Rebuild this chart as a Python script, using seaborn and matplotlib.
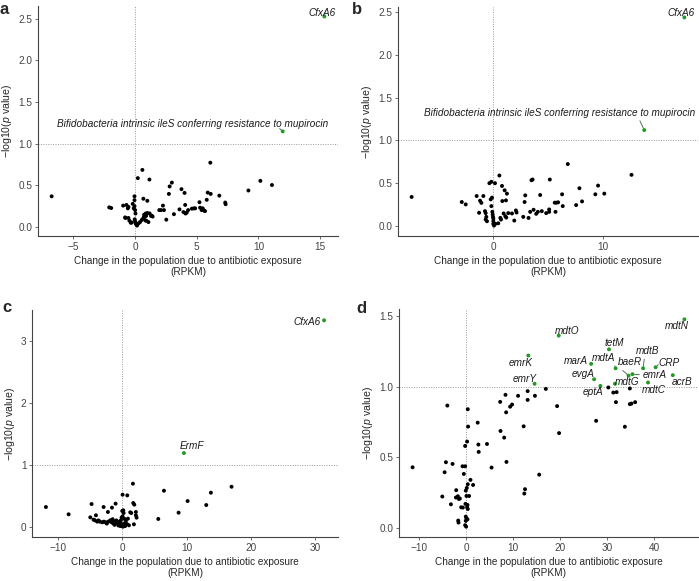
import numpy as np
import pandas as pd
import matplotlib
matplotlib.use("Agg")
import matplotlib.pyplot as plt
import seaborn as sns
from matplotlib.ticker import MultipleLocator

# ---- panel a : change (RPKM) vs -log10(p) ----
a_change = [-6.77, -2.10, -1.94, -0.97, -0.70, -0.59, -0.54, -0.78, -0.54, -0.46,
            -0.35, -0.19, -0.11, -0.05, -0.05, 0.00, 0.03, -0.03, 0.00, 0.05,
            0.11, 0.16, 0.27, 0.40, 0.54, 0.59, 0.22, 0.67, 0.67, 0.75,
            0.86, 0.89, 0.83, 0.99, 1.16, 1.08, 0.91, 1.18, 1.29, 1.42,
            1.96, 2.10, 2.26, 2.34, 2.53, 2.80, 2.74, 2.98, 3.15, 3.60,
            3.76, 3.92, 4.01, 4.06, 4.09, 4.19, 4.30, 4.60, 4.76, 4.87,
            5.22, 5.27, 5.40, 5.48, 5.59, 5.67, 5.81, 5.89, 6.10, 6.13,
            6.83, 7.31, 7.34, 9.19, 10.16, 11.10, -0.81, -0.27, 0.73, 1.00,
            1.35, -0.05]
a_logp = [0.364, 0.231, 0.223, 0.252, 0.260, 0.219, 0.236, 0.103, 0.103, 0.070,
          0.045, 0.273, 0.219, 0.364, 0.318, 0.198, 0.157, 0.087, 0.062, 0.037,
          0.021, 0.012, 0.037, 0.054, 0.079, 0.682, 0.583, 0.335, 0.103, 0.116,
          0.157, 0.128, 0.074, 0.310, 0.566, 0.054, 0.070, 0.157, 0.128, 0.120,
          0.198, 0.198, 0.252, 0.198, 0.083, 0.483, 0.393, 0.529, 0.149, 0.207,
          0.450, 0.174, 0.405, 0.260, 0.157, 0.169, 0.198, 0.215, 0.219, 0.219,
          0.293, 0.227, 0.198, 0.219, 0.194, 0.186, 0.322, 0.409, 0.769, 0.393,
          0.372, 0.289, 0.269, 0.434, 0.550, 0.500, 0.110, 0.049, 0.142, 0.163,
          0.130, 0.245]
a_genes = ["CfxA6", "Bifidobacteria intrinsic ileS conferring resistance to mupirocin"]
a_gene_change = [15.35, 11.97]
a_gene_logp = [2.53, 1.146]

# ---- panel b ----
b_change = [-7.45, -2.88, -2.52, -1.52, -1.21, -1.09, -0.91, -1.30, -0.76, -0.70,
            -0.64, -0.70, -0.58, -0.36, -0.18, 0.15, -0.24, -0.12, -0.18, -0.09,
            -0.06, -0.03, 0.00, 0.00, 0.00, 0.06, 0.18, 0.45, 0.55, 0.64,
            0.70, 0.79, 0.82, 0.94, 1.03, 1.09, 1.15, 1.24, 1.18, 1.36,
            1.70, 1.91, 2.06, 2.12, 2.73, 2.85, 2.91, 3.21, 3.36, 3.48,
            3.58, 3.67, 3.91, 4.06, 4.27, 4.42, 4.82, 5.09, 5.09, 5.15,
            5.60, 5.67, 5.76, 5.91, 6.27, 6.33, 6.79, 7.55, 7.85, 8.09,
            9.30, 9.55, 10.12, 12.60]
b_logp = [0.339, 0.280, 0.252, 0.350, 0.295, 0.270, 0.350, 0.154, 0.173, 0.150,
          0.106, 0.075, 0.055, 0.500, 0.516, 0.500, 0.311, 0.331, 0.232, 0.165,
          0.134, 0.106, 0.087, 0.055, 0.024, 0.004, 0.024, 0.031, 0.590, 0.094,
          0.075, 0.468, 0.291, 0.146, 0.417, 0.114, 0.299, 0.378, 0.098, 0.150,
          0.146, 0.063, 0.181, 0.157, 0.106, 0.280, 0.358, 0.094, 0.165, 0.535,
          0.543, 0.189, 0.142, 0.165, 0.362, 0.173, 0.150, 0.193, 0.165, 0.543,
          0.272, 0.165, 0.272, 0.276, 0.370, 0.232, 0.724, 0.244, 0.441, 0.287,
          0.370, 0.472, 0.378, 0.598]
b_genes = ["CfxA6", "Bifidobacteria intrinsic ileS conferring resistance to mupirocin"]
b_gene_change = [17.42, 13.76]
b_gene_logp = [2.44, 1.122]

# ---- panel c ----
c_change = [-11.87, -8.34, -4.77, -4.09, -2.90, -2.23, -1.60, -1.04, -4.97, -4.46,
            -4.25, -3.89, -3.47, -3.11, -2.85, -2.59, -2.18, -1.87, -1.66, -1.40,
            -1.14, -0.93, -0.83, -0.73, -0.52, -0.31, -0.21, -0.10, 0.05, 0.21,
            0.00, 0.16, 0.36, 0.57, 0.73, 0.88, 1.04, 1.24, 1.40, 1.71,
            1.87, 1.66, 0.05, 0.78, 2.12, 2.12, 2.23, 1.81, 5.60, 6.48,
            8.76, 10.16, 13.06, 13.78, 16.99, -1.20, -0.60, -0.30, 0.10, -0.90,
            -0.40, 0.30, -2.40, -3.70, -1.50, 0.45, -0.05]
c_logp = [0.326, 0.209, 0.374, 0.193, 0.326, 0.246, 0.316, 0.380, 0.160, 0.123,
          0.112, 0.091, 0.091, 0.080, 0.091, 0.080, 0.091, 0.112, 0.080, 0.064,
          0.096, 0.070, 0.059, 0.086, 0.048, 0.070, 0.112, 0.155, 0.176, 0.230,
          0.262, 0.273, 0.134, 0.107, 0.053, 0.139, 0.032, 0.241, 0.230, 0.390,
          0.364, 0.701, 0.524, 0.513, 0.246, 0.193, 0.155, 0.048, 0.134, 0.588,
          0.235, 0.422, 0.358, 0.556, 0.652, 0.040, 0.030, 0.020, 0.010, 0.110,
          0.090, 0.060, 0.060, 0.110, 0.130, 0.020, 0.040]
c_genes = ["CfxA6", "ErmF"]
c_gene_change = [31.38, 9.59]
c_gene_logp = [3.326, 1.193]

# ---- panel d ----
d_change = [-11.40, -4.00, -4.30, -4.58, -2.89, -5.07, -3.24, -2.11, -2.18, -1.76,
            -1.55, -1.34, -1.06, -0.70, -1.69, -1.62, -0.77, -0.21, -0.49, -0.21,
            0.21, 0.35, 0.42, -0.07, 0.14, 0.35, 0.07, -0.14, 0.28, 0.21,
            0.35, 0.63, 0.92, 1.48, -0.07, 0.07, 0.28, -0.07, -0.21, 0.00,
            2.46, 2.61, 2.68, 4.44, 5.42, 7.25, 7.32, 8.10, 8.52, 8.59,
            9.37, 9.79, 12.25, 12.54, 12.39, 15.56, 8.38, 11.06, 13.10, 13.10,
            14.65, 16.97, 19.37, 19.79, 27.68, 30.28, 31.34, 32.04, 31.90, 33.80,
            34.86, 34.86, 35.21, 35.99]
d_logp = [0.429, 0.866, 0.465, 0.394, 0.453, 0.222, 0.167, 0.267, 0.215, 0.224,
          0.205, 0.208, 0.146, 0.144, 0.052, 0.038, 0.436, 0.436, 0.382, 0.580,
          0.611, 0.840, 0.717, 0.264, 0.283, 0.309, 0.226, 0.170, 0.163, 0.146,
          0.134, 0.226, 0.340, 0.304, 0.080, 0.066, 0.061, 0.050, 0.019, 0.009,
          0.745, 0.590, 0.538, 0.594, 0.427, 0.892, 0.686, 0.639, 0.818, 0.467,
          0.858, 0.873, 0.719, 0.274, 0.243, 0.377, 0.942, 0.935, 0.968, 0.906,
          0.935, 0.984, 0.862, 0.671, 0.758, 0.994, 0.958, 0.961, 0.890, 0.716,
          0.987, 0.876, 0.880, 0.890]
d_genes = ["mdtO", "emrK", "emrY", "marA", "evgA", "eptA", "tetM", "mdtA",
           "mdtG", "baeR", "emrA", "mdtB", "CRP", "mdtC", "acrB", "mdtN"]
d_gene_change = [19.72, 13.24, 14.58, 26.62, 27.25, 28.59, 30.42, 31.83,
                 31.69, 34.58, 35.42, 37.68, 40.35, 38.73, 44.01, 46.48]
d_gene_logp = [1.361, 1.220, 1.020, 1.161, 1.052, 1.005, 1.264, 1.130,
               1.020, 1.078, 1.088, 1.130, 1.137, 1.029, 1.081, 1.476]

# label placement (text x, text y, segment anchor on the label or None)
label_pos = {
    "a": [(15.14, 2.573, None), (4.68, 1.24, (0.82, 0.0))],
    "b": [(17.12, 2.496, None), (6.05, 1.327, (0.79, 0.0))],
    "c": [(28.8, 3.305, None), (10.87, 1.30, None)],
    "d": [(21.48, 1.396, None), (11.69, 1.17, None), (12.54, 1.052, None),
          (23.31, 1.182, None), (24.86, 1.09, None), (27.11, 0.965, None),
          (31.48, 1.307, None), (29.23, 1.206, (0.95, 0.0)), (34.37, 1.036, None),
          (34.86, 1.173, (0.05, 0.0)), (40.14, 1.083, (0.0, 0.5)),
          (38.52, 1.253, (0.4, 0.0)), (43.17, 1.17, (0.0, 0.3)),
          (39.93, 0.977, None), (45.92, 1.036, None), (44.86, 1.429, None)],
}

sns.set_theme(style="ticks")
plt.rcParams["font.family"] = ["Liberation Sans", "DejaVu Sans"]
plt.rcParams["mathtext.fontset"] = "custom"
plt.rcParams["mathtext.rm"] = "Liberation Sans"
plt.rcParams["mathtext.it"] = "Liberation Sans:italic"

GREEN = "#239b23"
W, H = 699, 581
fig = plt.figure(figsize=(W / 100, H / 100), dpi=100)


def box(l, t, r, b):
    return [l / W, 1 - b / H, (r - l) / W, (b - t) / H]


panels = [
    ("a", box(38, 6, 338, 236), a_change, a_logp, a_genes, a_gene_change, a_gene_logp, 5, 0.5),
    ("b", box(398, 7, 698, 236), b_change, b_logp, b_genes, b_gene_change, b_gene_logp, 10, 0.5),
    ("c", box(32, 310, 338, 537), c_change, c_logp, c_genes, c_gene_change, c_gene_logp, 10, 1),
    ("d", box(399, 309, 698, 537), d_change, d_logp, d_genes, d_gene_change, d_gene_logp, 10, 0.5),
]

for key, rect, xs, ys, genes, gx, gy, xstep, ystep in panels:
    ax = fig.add_axes(rect)
    df = pd.DataFrame({"change": xs + gx, "logp": ys + gy,
                       "sig": [False] * len(xs) + [True] * len(gx)})
    ax.axvline(0, color="#9a9a9a", ls=(0, (1, 1.5)), lw=0.7, zorder=0)
    ax.axhline(1, color="#9a9a9a", ls=(0, (1, 1.5)), lw=0.7, zorder=0)
    sns.scatterplot(data=df, x="change", y="logp", hue="sig",
                    palette={False: "black", True: GREEN}, s=8, linewidth=0,
                    legend=False, ax=ax, zorder=3)
    ax.margins(0.05)
    for name, px, py, (tx, ty, rel) in zip(genes, gx, gy, label_pos[key]):
        arrow = None
        if rel is not None:
            arrow = dict(arrowstyle="-", color="#3a5a3a", lw=0.6,
                         shrinkA=0, shrinkB=1.5, relpos=rel)
        ax.annotate(name, xy=(px, py), xytext=(tx, ty), textcoords="data",
                    ha="center", va="center", fontsize=7.2, style="italic",
                    color="#1a1a1a", arrowprops=arrow, annotation_clip=False)
    ax.xaxis.set_major_locator(MultipleLocator(xstep))
    ax.yaxis.set_major_locator(MultipleLocator(ystep))
    if ystep == 0.5:
        ax.yaxis.set_major_formatter(matplotlib.ticker.FormatStrFormatter("%.1f"))
    ax.set_xlabel("Change in the population due to antibiotic exposure\n(RPKM)",
                  fontsize=7.2, labelpad=3)
    ax.set_ylabel("\u2212log10($\\mathit{p}$ value)", fontsize=7.6, labelpad=3)
    ax.tick_params(labelsize=7.2, length=2, width=0.6, colors="#555555",
                   labelcolor="#444444", pad=2)
    sns.despine(ax=ax)
    for sp in ("left", "bottom"):
        ax.spines[sp].set_color("#444444")
        ax.spines[sp].set_linewidth(0.8)
    ax.set_facecolor("white")

fig.text(0 / W, 1 - 2 / H, "a", fontsize=12, fontweight="bold", va="top")
fig.text(352 / W, 1 - 2 / H, "b", fontsize=12, fontweight="bold", va="top")
fig.text(2 / W, 1 - 300 / H, "c", fontsize=12, fontweight="bold", va="top")
fig.text(356 / W, 1 - 301 / H, "d", fontsize=12, fontweight="bold", va="top")

fig.savefig("out.png", dpi=100, facecolor="white")
